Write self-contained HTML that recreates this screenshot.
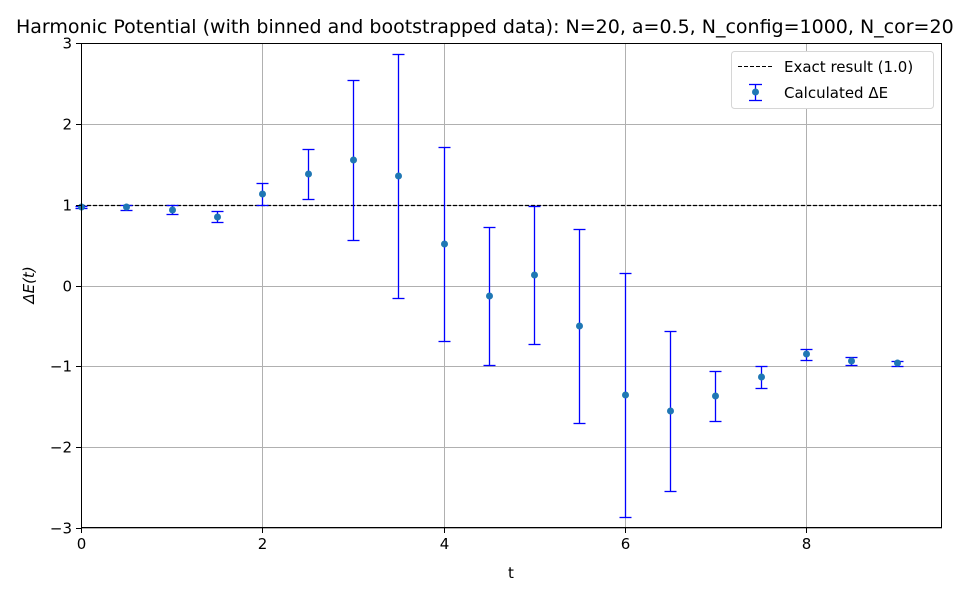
<!DOCTYPE html>
<html><head><meta charset="utf-8"><style>
body{margin:0;background:#fff;}
svg{display:block;font-family:"DejaVu Sans","Liberation Sans",sans-serif;}
</style></head><body>
<svg id="chart" width="960" height="600">
<text x="16" y="33" font-size="19" fill="#000">Harmonic Potential (with binned and bootstrapped data): N=20, a=0.5, N_config=1000, N_cor=20</text>
<g id="grid"></g>
<g id="marks"></g>
<rect x="81.5" y="43.5" width="860" height="484" fill="none" stroke="#000" stroke-width="1"/>
<g id="axes"></g>
<text x="511" y="578" font-size="15" text-anchor="middle">t</text>
<text transform="translate(34,285) rotate(-90)" font-size="15" text-anchor="middle" font-style="italic">ΔE(t)</text>
<g>
<rect x="731.5" y="51.5" width="202" height="57" fill="#fff" stroke="#d6d6d6" rx="3"/>
<line x1="738" y1="66.5" x2="772" y2="66.5" stroke="#000" stroke-dasharray="4,2"/>
<text x="784" y="72" font-size="15">Exact result (1.0)</text>
<line x1="755.5" y1="84" x2="755.5" y2="100" stroke="#0000ff" stroke-width="1.3"/>
<line x1="749" y1="84.5" x2="762" y2="84.5" stroke="#0000ff" stroke-width="1.3"/>
<line x1="749" y1="100.5" x2="762" y2="100.5" stroke="#0000ff" stroke-width="1.3"/>
<circle cx="755.5" cy="92" r="3.5" fill="#1f77b4"/>
<text x="784" y="98" font-size="15">Calculated ΔE</text>
</g>
</svg>
<script>
const tValues=[0,0.5,1,1.5,2,2.5,3,3.5,4,4.5,5,5.5,6,6.5,7,7.5,8,8.5,9];
const dE=[0.97,0.97,0.94,0.85,1.13,1.38,1.55,1.36,0.51,-0.13,0.13,-0.50,-1.35,-1.55,-1.37,-1.13,-0.85,-0.93,-0.96];
const errs=[0.01,0.03,0.05,0.07,0.14,0.31,0.99,1.51,1.20,0.85,0.85,1.20,1.51,0.99,0.31,0.14,0.07,0.05,0.03];
const xTicks=[0,2,4,6,8];
const yTicks=[-3,-2,-1,0,1,2,3];
const exact=1.0;
const X0=81,X1=942,Y0=528,Y1=43,xmin=0,xmax=9.5,ymin=-3,ymax=3;
const sx=v=>Math.round(X0+(v-xmin)/(xmax-xmin)*(X1-X0))+0.5;
const sy=v=>Math.round(Y0-(v-ymin)/(ymax-ymin)*(Y0-Y1))+0.5;
const NS="http://www.w3.org/2000/svg";
function mk(p,tag,a){const e=document.createElementNS(NS,tag);for(const k in a)e.setAttribute(k,a[k]);p.appendChild(e);return e;}
const grid=document.getElementById('grid'),axes=document.getElementById('axes'),marks=document.getElementById('marks');
xTicks.forEach(v=>{
 const g=mk(grid,'line',{x1:sx(v),x2:sx(v),y1:Y1,y2:Y0,stroke:'#b0b0b0','stroke-width':1});
 
 
 mk(axes,'line',{x1:sx(v),x2:sx(v),y1:Y0,y2:Y0+5,stroke:'#000'});
 const t=mk(axes,'text',{x:sx(v),y:Y0+21,'font-size':15,'text-anchor':'middle'});t.textContent=v;
 
 
});
yTicks.forEach(v=>{
 const g=mk(grid,'line',{x1:X0,x2:X1,y1:sy(v),y2:sy(v),stroke:'#b0b0b0','stroke-width':1});
 
 
 mk(axes,'line',{x1:X0-5,x2:X0,y1:sy(v),y2:sy(v),stroke:'#000'});
 const t=mk(axes,'text',{x:X0-9,y:sy(v)+5,'font-size':15,'text-anchor':'end'});t.textContent=v<0?'\u2212'+(-v):v;
 
 
});
const ex=mk(marks,'line',{x1:X0,x2:X1,y1:sy(exact),y2:sy(exact),stroke:'#000','stroke-dasharray':'4,2','stroke-width':1.2});


tValues.forEach((t,i)=>{
 const x=sx(t),y=sy(dE[i]),hi=sy(dE[i]+errs[i]),lo=sy(dE[i]-errs[i]);
 const g=mk(marks,'g',{});
 
 
 mk(g,'line',{x1:x,x2:x,y1:hi,y2:lo,stroke:'#0000ff','stroke-width':1.3});
 mk(g,'line',{x1:x-6,x2:x+6,y1:hi,y2:hi,stroke:'#0000ff','stroke-width':1.3});
 mk(g,'line',{x1:x-6,x2:x+6,y1:lo,y2:lo,stroke:'#0000ff','stroke-width':1.3});
 mk(g,'circle',{cx:x,cy:y-0.5,r:3.5,fill:'#1f77b4'});
});
</script>
</body></html>
